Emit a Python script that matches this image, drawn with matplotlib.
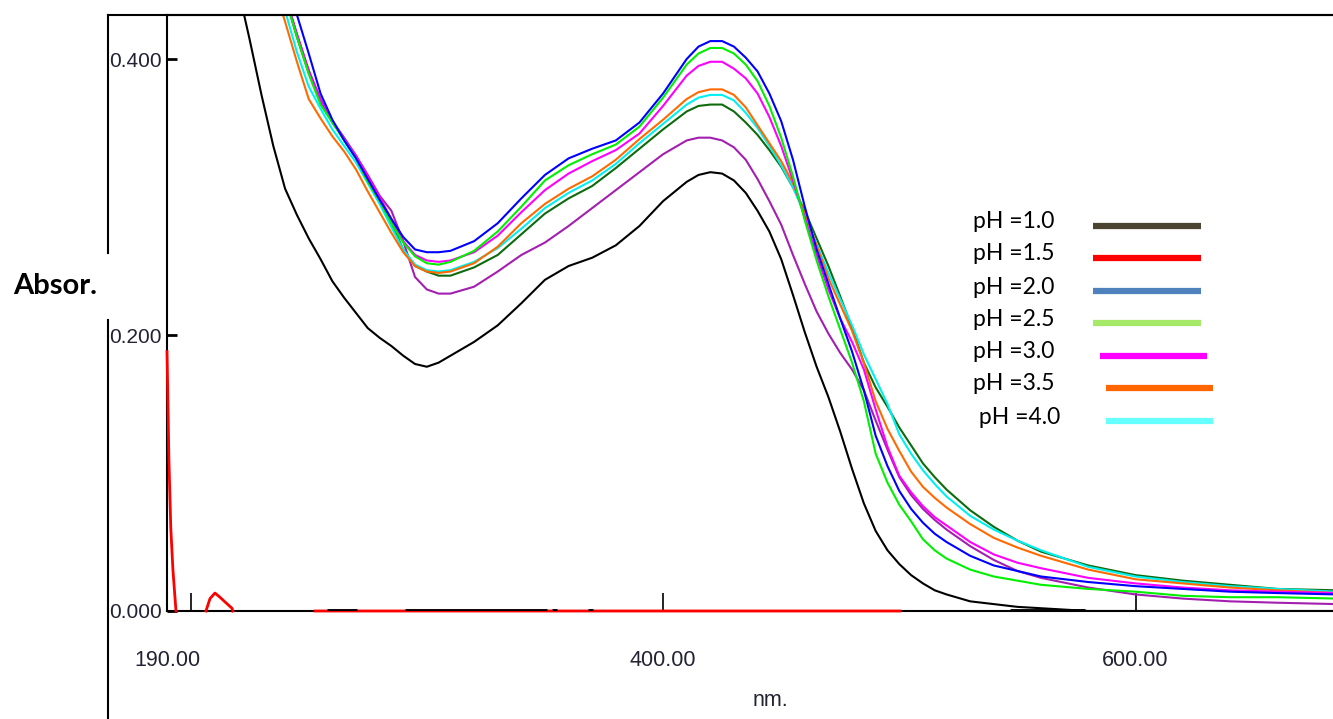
import numpy as np
import matplotlib
matplotlib.use("Agg")
import matplotlib.pyplot as plt
from matplotlib.lines import Line2D

# ---------------- data ----------------
wavelength = [215, 220, 225, 230, 235, 240, 245, 250, 255, 260, 265, 270, 275, 280, 285,
              290, 295, 300, 305, 310, 320, 330, 340, 350, 360, 370, 380, 390, 400, 410,
              415, 420, 425, 430, 435, 440, 445, 450, 455, 460, 465, 470, 475, 480, 485,
              490, 495, 500, 505, 510, 515, 520, 530, 540, 550, 560, 580, 600, 620, 640,
              660, 685]

abs_black = [0.500, 0.452, 0.414, 0.374, 0.337, 0.306, 0.287, 0.270, 0.255, 0.239, 0.227,
             0.216, 0.205, 0.198, 0.192, 0.185, 0.179, 0.177, 0.180, 0.185, 0.195, 0.207,
             0.223, 0.240, 0.250, 0.256, 0.265, 0.279, 0.297, 0.311, 0.316, 0.318, 0.317,
             0.312, 0.303, 0.290, 0.275, 0.255, 0.229, 0.202, 0.177, 0.155, 0.130, 0.103,
             0.078, 0.058, 0.044, 0.034, 0.026, 0.020, 0.015, 0.012, 0.007, 0.005, 0.003,
             0.002, 0.000, 0.000, 0.000, 0.000, 0.000, 0.000]

abs_blue = [0.640, 0.590, 0.545, 0.505, 0.475, 0.452, 0.432, 0.404, 0.375, 0.356, 0.341,
            0.328, 0.313, 0.298, 0.284, 0.271, 0.262, 0.260, 0.260, 0.261, 0.268, 0.281,
            0.299, 0.316, 0.328, 0.335, 0.341, 0.354, 0.375, 0.400, 0.409, 0.413, 0.413,
            0.409, 0.401, 0.391, 0.375, 0.355, 0.327, 0.293, 0.262, 0.237, 0.212, 0.188,
            0.160, 0.127, 0.105, 0.087, 0.074, 0.064, 0.056, 0.050, 0.040, 0.033, 0.029,
            0.025, 0.021, 0.018, 0.016, 0.014, 0.013, 0.012]

abs_green = [0.630, 0.580, 0.535, 0.500, 0.470, 0.445, 0.416, 0.389, 0.367, 0.354, 0.341,
             0.328, 0.311, 0.297, 0.281, 0.267, 0.257, 0.252, 0.251, 0.253, 0.261, 0.275,
             0.293, 0.312, 0.323, 0.331, 0.338, 0.351, 0.372, 0.396, 0.404, 0.408, 0.408,
             0.404, 0.396, 0.384, 0.366, 0.343, 0.315, 0.283, 0.254, 0.228, 0.204, 0.180,
             0.152, 0.114, 0.093, 0.077, 0.065, 0.052, 0.044, 0.038, 0.030, 0.025, 0.022,
             0.019, 0.016, 0.014, 0.011, 0.010, 0.010, 0.009]

abs_magenta = [0.630, 0.585, 0.540, 0.505, 0.475, 0.445, 0.418, 0.391, 0.370, 0.355, 0.342,
               0.330, 0.315, 0.300, 0.284, 0.268, 0.258, 0.254, 0.253, 0.254, 0.260, 0.272,
               0.289, 0.305, 0.317, 0.326, 0.334, 0.346, 0.366, 0.388, 0.395, 0.398, 0.398,
               0.393, 0.386, 0.375, 0.358, 0.337, 0.312, 0.285, 0.258, 0.233, 0.212, 0.195,
               0.175, 0.146, 0.119, 0.098, 0.086, 0.076, 0.068, 0.062, 0.050, 0.041, 0.035,
               0.031, 0.024, 0.020, 0.017, 0.015, 0.014, 0.013]

abs_orange = [0.610, 0.560, 0.515, 0.480, 0.455, 0.427, 0.398, 0.371, 0.357, 0.344, 0.333,
              0.320, 0.304, 0.289, 0.274, 0.260, 0.250, 0.246, 0.245, 0.246, 0.252, 0.264,
              0.281, 0.295, 0.306, 0.315, 0.327, 0.342, 0.356, 0.371, 0.376, 0.378, 0.378,
              0.374, 0.365, 0.352, 0.339, 0.326, 0.310, 0.288, 0.265, 0.241, 0.222, 0.203,
              0.180, 0.152, 0.132, 0.116, 0.101, 0.090, 0.082, 0.075, 0.063, 0.053, 0.046,
              0.040, 0.030, 0.023, 0.020, 0.017, 0.015, 0.013]

abs_cyan = [0.620, 0.570, 0.525, 0.490, 0.462, 0.435, 0.405, 0.380, 0.364, 0.349, 0.337,
            0.325, 0.310, 0.295, 0.278, 0.262, 0.251, 0.247, 0.246, 0.247, 0.253, 0.263,
            0.277, 0.292, 0.303, 0.312, 0.324, 0.339, 0.353, 0.367, 0.372, 0.374, 0.374,
            0.370, 0.361, 0.350, 0.337, 0.323, 0.307, 0.287, 0.266, 0.245, 0.226, 0.207,
            0.186, 0.168, 0.150, 0.128, 0.114, 0.102, 0.092, 0.083, 0.069, 0.059, 0.051,
            0.044, 0.032, 0.025, 0.021, 0.018, 0.016, 0.014]

abs_darkgreen = [0.630, 0.585, 0.540, 0.505, 0.475, 0.445, 0.416, 0.390, 0.369, 0.354, 0.342,
                 0.329, 0.314, 0.298, 0.281, 0.262, 0.250, 0.246, 0.243, 0.243, 0.249, 0.258,
                 0.273, 0.288, 0.299, 0.308, 0.321, 0.335, 0.349, 0.362, 0.366, 0.367, 0.367,
                 0.362, 0.354, 0.345, 0.334, 0.322, 0.307, 0.290, 0.270, 0.250, 0.228, 0.205,
                 0.180, 0.162, 0.148, 0.133, 0.120, 0.107, 0.097, 0.088, 0.073, 0.061, 0.051,
                 0.043, 0.033, 0.026, 0.022, 0.019, 0.016, 0.015]

abs_purple = [0.635, 0.590, 0.545, 0.508, 0.477, 0.447, 0.418, 0.392, 0.371, 0.355, 0.343,
              0.330, 0.316, 0.301, 0.290, 0.268, 0.242, 0.233, 0.230, 0.230, 0.235, 0.246,
              0.258, 0.267, 0.279, 0.292, 0.305, 0.318, 0.331, 0.341, 0.343, 0.343, 0.341,
              0.336, 0.327, 0.313, 0.297, 0.280, 0.258, 0.237, 0.217, 0.201, 0.187, 0.175,
              0.160, 0.138, 0.117, 0.097, 0.084, 0.074, 0.066, 0.059, 0.047, 0.037, 0.029,
              0.024, 0.017, 0.012, 0.009, 0.007, 0.006, 0.005]

# red trace (spike near 190 nm, small bump, flat baseline)
red_wavelength = [190.0, 190.3, 190.8, 191.6, 192.5, 193.8, np.nan,
                  206.5, 208.2, 210.3, 212.4, 214.6, 217.5, 217.9, np.nan,
                  252.7, 500.3]
red_abs = [0.188, 0.160, 0.110, 0.060, 0.030, 0.0, np.nan,
           0.0, 0.009, 0.013, 0.010, 0.0065, 0.002, 0.0, np.nan,
           0.0, 0.0]

# thick black baseline fragments (nm ranges)
baseline_black_start = [257.7, 290.8, 353.0, 368.2, 546.9]
baseline_black_end = [270.4, 350.9, 355.0, 370.4, 578.6]

legend_labels = ["pH =1.0", "pH =1.5", "pH =2.0", "pH =2.5", "pH =3.0", "pH =3.5", " pH =4.0"]
legend_colors = ["#4a4430", "#ff0000", "#4f81bd", "#a6e868", "#ff00ff", "#ff6600", "#66ffff"]

x_ticks = [190, 400, 600]
x_tick_labels = ["190.00", "400.00", "600.00"]
y_ticks = [0.0, 0.2, 0.4]
y_tick_labels = ["0.000", "0.200", "0.400"]

# ---------------- figure ----------------
W, H = 1333, 719
fig = plt.figure(figsize=(W / 100, H / 100), dpi=100)
fig.patch.set_facecolor("white")

def fx(px):
    return px / W

def fy(py):
    return 1 - py / H

ax = fig.add_axes([fx(167), fy(611), fx(1333) - fx(167), fy(15) - fy(611)])
ax.set_xlim(190, 683.6)
ax.set_ylim(0, 0.4319)

tick_font = ["Liberation Sans", "DejaVu Sans"]
label_font = ["Lato", "DejaVu Sans"]

curves = [
    (abs_black, "#000000"),
    (abs_purple, "#a31fb0"),
    (abs_darkgreen, "#0d6b0d"),
    (abs_cyan, "#00f0f0"),
    (abs_orange, "#ff6a00"),
    (abs_magenta, "#ff00ff"),
    (abs_green, "#00f000"),
    (abs_blue, "#0000ff"),
]
for vals, col in curves:
    ax.plot(wavelength, vals, color=col, lw=1.5, zorder=3)

ax.plot(red_wavelength, red_abs, color="#ff0000", lw=2.0, zorder=4, clip_on=False)
for s, e in zip(baseline_black_start, baseline_black_end):
    ax.plot([s, e], [0, 0], color="#000000", lw=3.5, zorder=5, solid_capstyle="butt")

for side in ["left", "bottom", "top"]:
    ax.spines[side].set_linewidth(1.5)
    ax.spines[side].set_color("#000000")
ax.spines["right"].set_visible(False)

ax.set_xticks(x_ticks)
ax.set_xticklabels(x_tick_labels, fontfamily=tick_font, fontsize=15.5, color="#222233")
ax.set_xticks([200], minor=True)
ax.tick_params(axis="x", which="both", direction="in", length=13, width=1.2, pad=28)
ax.set_yticks(y_ticks)
ax.set_yticklabels(y_tick_labels, fontfamily=tick_font, fontsize=15, color="#222233")
ax.tick_params(axis="y", direction="in", length=7, width=2, pad=4)

# outer frame lines
fig.add_artist(Line2D([fx(108), fx(1333)], [fy(15), fy(15)], color="black", lw=1.5))
fig.add_artist(Line2D([fx(108), fx(108)], [fy(15), fy(253)], color="black", lw=1.5))
fig.add_artist(Line2D([fx(108), fx(108)], [fy(320), fy(719)], color="black", lw=1.5))

fig.text(fx(55), fy(286), "Absor.", ha="center", va="center", fontsize=21,
         fontweight="bold", fontfamily=label_font, color="black")
fig.text(fx(770), fy(700), "nm.", ha="center", va="center", fontsize=15.5,
         fontfamily=tick_font, color="#222233")

# legend overlay
leg_y = [226, 258, 291, 323, 356, 388, 421]
leg_x0 = [1093, 1093, 1093, 1093, 1100, 1106, 1106]
leg_x1 = [1201, 1201, 1201, 1201, 1207, 1213, 1213]
for lab, col, yy, a, b in zip(legend_labels, legend_colors, leg_y, leg_x0, leg_x1):
    fig.text(fx(973), fy(yy - 4), lab, ha="left", va="center", fontsize=16.5,
             fontfamily=label_font, color="black")
    fig.add_artist(Line2D([fx(a), fx(b)], [fy(yy), fy(yy)], color=col, lw=4.5,
                          solid_capstyle="butt"))

fig.savefig("out.png", dpi=100)
